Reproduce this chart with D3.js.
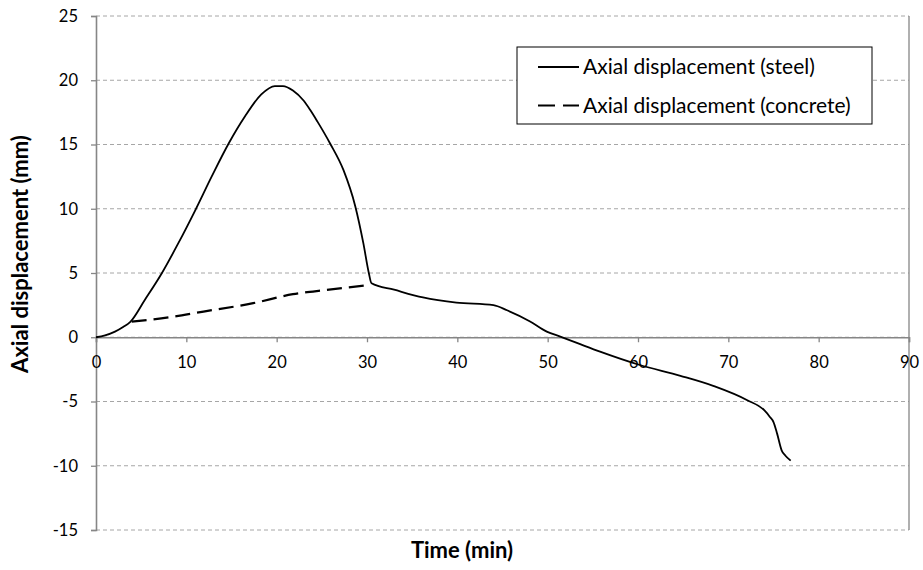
<!DOCTYPE html>
<html>
<head>
<meta charset="utf-8">
<script src="https://cdn.jsdelivr.net/npm/d3@7"></script>
<style>
  html, body { margin: 0; padding: 0; background: #fff; }
  svg text { font-family: Lato, "Open Sans", sans-serif; fill: #000; }
</style>
</head>
<body>
<svg id="chart" width="923" height="570"></svg>
<script>
// Time (min) and axial displacement (mm) of the steel section
const steelTime = [0, 1, 2.1, 3, 3.8, 5.4, 7.3, 9.1, 11.0, 12.8, 14.7, 16.5, 18.3, 19.8, 20.7,
  21.8, 23.0, 23.7, 24.5, 25.9, 27.4, 28.7, 29.6, 30.2, 30.5,
  33.0, 36.2, 39.9, 44.0, 45.5, 48.0, 49.9, 51.4, 53.6, 55.8, 60.2, 64.7, 68.4,
  72.1, 74.0, 74.6, 75.0, 75.4, 75.9, 76.3, 76.9];
const steelDisp = [0, 0.15, 0.44, 0.8, 1.2, 2.9, 5.0, 7.3, 9.9, 12.5, 15.1, 17.2, 18.9, 19.55, 19.55,
  19.2, 18.4, 17.7, 16.8, 15.1, 13.0, 10.2, 7.3, 5.0, 4.2,
  3.7, 3.1, 2.7, 2.5, 2.1, 1.25, 0.44, 0.05, -0.54, -1.12, -2.16, -3.0, -3.8,
  -4.9, -5.7, -6.2, -6.6, -7.5, -8.8, -9.2, -9.6];

// Time (min) and axial displacement (mm) of the concrete core
const concreteTime = [3.95, 8.2, 11.9, 17.4, 21.8, 25.5, 30.3];
const concreteDisp = [1.21, 1.56, 2.0, 2.65, 3.35, 3.68, 4.07];

const xTicks = [0, 10, 20, 30, 40, 50, 60, 70, 80, 90];
const yTicks = [-15, -10, -5, 0, 5, 10, 15, 20, 25];

const seriesNames = ["Axial displacement (steel)", "Axial displacement (concrete)"];

const svg = d3.select("#chart");
const plotLeft = 96, plotRight = 909, plotTop = 16, plotBottom = 530;

const x = d3.scaleLinear().domain([0, 90]).range([plotLeft, plotRight]);
const y = d3.scaleLinear().domain([-15, 25]).range([plotBottom, plotTop]);

const axisColor = "#868686";
const tickFmt = d => String(d); // plain hyphen for negatives

// horizontal dashed gridlines
svg.append("g").selectAll("line").data(yTicks).join("line")
  .attr("x1", plotLeft).attr("x2", plotRight)
  .attr("y1", d => y(d)).attr("y2", d => y(d))
  .attr("stroke", "#a6a6a6").attr("stroke-width", 1)
  .attr("stroke-dasharray", "4,3");

// right border of the plot area
svg.append("line")
  .attr("x1", plotRight).attr("x2", plotRight).attr("y1", plotTop).attr("y2", plotBottom)
  .attr("stroke", axisColor).attr("stroke-width", 1.3);

// y axis at x = 0
const yAxis = svg.append("g").attr("transform", `translate(${x(0)},0)`)
  .call(d3.axisLeft(y).tickValues(yTicks).tickSize(5).tickPadding(13).tickFormat(tickFmt));
yAxis.select(".domain").attr("stroke", axisColor).attr("stroke-width", 1.6);
yAxis.selectAll(".tick line").attr("stroke", axisColor).attr("stroke-width", 1.3);
yAxis.selectAll(".tick text").attr("font-size", 16.5).attr("font-family", "Lato, sans-serif");

// x axis at y = 0
const xAxis = svg.append("g").attr("transform", `translate(0,${y(0)})`)
  .call(d3.axisBottom(x).tickValues(xTicks).tickSize(5).tickPadding(14).tickFormat(tickFmt));
xAxis.select(".domain").attr("stroke", axisColor).attr("stroke-width", 1.6);
xAxis.selectAll(".tick line").attr("stroke", axisColor).attr("stroke-width", 1.3);
xAxis.selectAll(".tick text").attr("font-size", 16.5).attr("font-family", "Lato, sans-serif");

const line = d3.line().x(d => x(d[0])).y(d => y(d[1])).curve(d3.curveMonotoneX);

const steel = steelTime.map((t, i) => [t, steelDisp[i]]);
const concrete = concreteTime.map((t, i) => [t, concreteDisp[i]]);

svg.append("path").datum(concrete)
  .attr("d", line).attr("fill", "none").attr("stroke", "#000")
  .attr("stroke-width", 2.2).attr("stroke-dasharray", "15,7");

svg.append("path").datum(steel)
  .attr("d", line).attr("fill", "none").attr("stroke", "#000")
  .attr("stroke-width", 1.8).attr("stroke-linejoin", "round");

// axis titles
svg.append("text")
  .attr("transform", "translate(28,254) rotate(-90)")
  .attr("text-anchor", "middle").attr("font-size", 22).attr("font-weight", "bold")
  .text("Axial displacement (mm)");
svg.append("text")
  .attr("x", 462).attr("y", 558)
  .attr("text-anchor", "middle").attr("font-size", 22).attr("font-weight", "bold")
  .text("Time (min)");

// legend
const legend = svg.append("g");
legend.append("rect")
  .attr("x", 517).attr("y", 47).attr("width", 355).attr("height", 77)
  .attr("fill", "#fff").attr("stroke", "#000").attr("stroke-width", 1);
const dashes = [null, "17,8"];
const widths = [1.8, 2.2];
seriesNames.forEach((name, i) => {
  const cy = 67 + i * 38.5;
  legend.append("line")
    .attr("x1", 538).attr("x2", 579).attr("y1", cy).attr("y2", cy)
    .attr("stroke", "#000").attr("stroke-width", widths[i])
    .attr("stroke-dasharray", dashes[i]);
  legend.append("text")
    .attr("x", 583).attr("y", cy).attr("dy", "0.35em")
    .attr("font-size", 21).text(name);
});
</script>
</body>
</html>
